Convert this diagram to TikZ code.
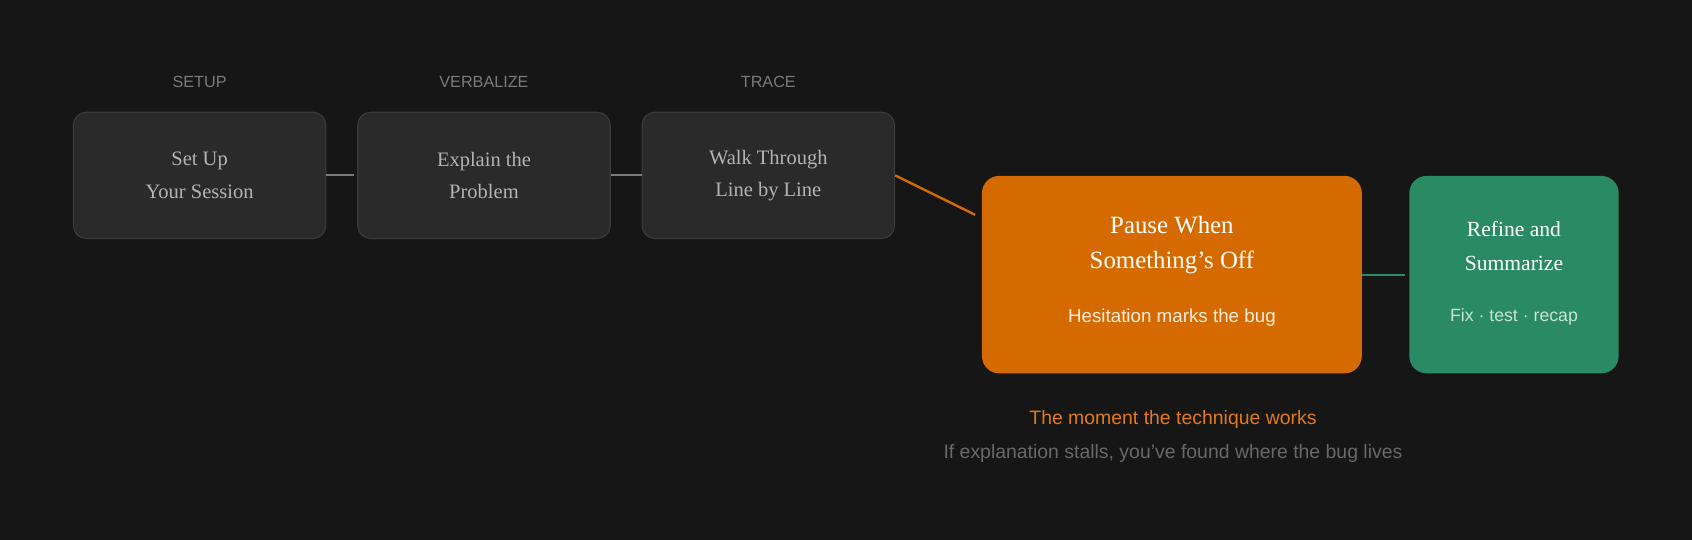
\documentclass[tikz,border=0pt]{standalone}
\usepackage{fontspec}
\setmainfont{Liberation Serif}
\setsansfont{Liberation Sans}
\usetikzlibrary{positioning}
\definecolor{bgdark}{HTML}{161616}
\definecolor{boxgray}{HTML}{2A2A2A}
\definecolor{boxline}{HTML}{3C3C3C}
\definecolor{textgray}{HTML}{B4B4B4}
\definecolor{labelgray}{HTML}{7A7A7A}
\definecolor{orangemain}{HTML}{D56B00}
\definecolor{orangetext}{HTML}{E07A1F}
\definecolor{greenmain}{HTML}{2A8A64}
\tikzset{
  stepbox/.style={draw=boxline,fill=boxgray,rounded corners=6pt,minimum width=117pt,minimum height=58.5pt,
    text=textgray,align=center,font=\fontsize{9.5}{15}\selectfont,line width=0.5pt},
  steplabel/.style={text=labelgray,font=\sffamily\fontsize{7.5}{9}\selectfont},
  link/.style={line width=0.8pt}
}
\begin{document}
\begin{tikzpicture}[x=0.5pt,y=-0.5pt]
\fill[bgdark] (0,0) rectangle (1568,500);
\useasboundingbox (0,0) rectangle (1568,500);

\node[stepbox] (setup) at (185,162.5) {Set Up\\Your Session};
\node[stepbox] (explain) at (448.5,162.5) {Explain the\\Problem};
\node[stepbox] (walk) at (712,162.5) {Walk Through\\Line by Line};
\node[steplabel] (lsetup) at (185,76) {SETUP};
\node[steplabel] (lexplain) at (448.5,76) {VERBALIZE};
\node[steplabel] (lwalk) at (712,76) {TRACE};

\node[fill=orangemain,rounded corners=8pt,minimum width=176pt,minimum height=91.5pt] (pause) at (1086,254.5) {};
\node[text=white,align=center,font=\fontsize{11.5}{16}\selectfont] (pausetitle) at (1086,227) {Pause When\\Something's Off};
\node[text=white!88!orangemain,font=\sffamily\fontsize{8.7}{10}\selectfont] (pausesub) at (1086,294) {Hesitation marks the bug};

\node[fill=greenmain,rounded corners=8pt,minimum width=97pt,minimum height=91.5pt] (refine) at (1403,254.5) {};
\node[text=white,align=center,font=\fontsize{10}{16}\selectfont] (refinetitle) at (1403,228) {Refine and\\Summarize};
\node[text=white!75!greenmain,font=\sffamily\fontsize{8.2}{10}\selectfont] (refinesub) at (1403,294) {Fix · test · recap};

\draw[link,draw=labelgray] (setup.east) -- ++(26,0);
\draw[link,draw=labelgray] (explain.east) -- (walk.west);
\draw[link,draw=orangemain,line width=1.1pt] (walk.east) -- ([xshift=-3pt]pause.west |- 0,199);
\draw[link,draw=greenmain,line width=1pt] (pause.east) -- ([xshift=-2pt]refine.west);

\node[text=orangetext,font=\sffamily\fontsize{9}{11}\selectfont] (moment) at (1087,389) {The moment the technique works};
\node[text=labelgray!85!black,font=\sffamily\fontsize{9}{11}\selectfont] (stall) at (1087,420) {If explanation stalls, you've found where the bug lives};
\end{tikzpicture}
\end{document}
